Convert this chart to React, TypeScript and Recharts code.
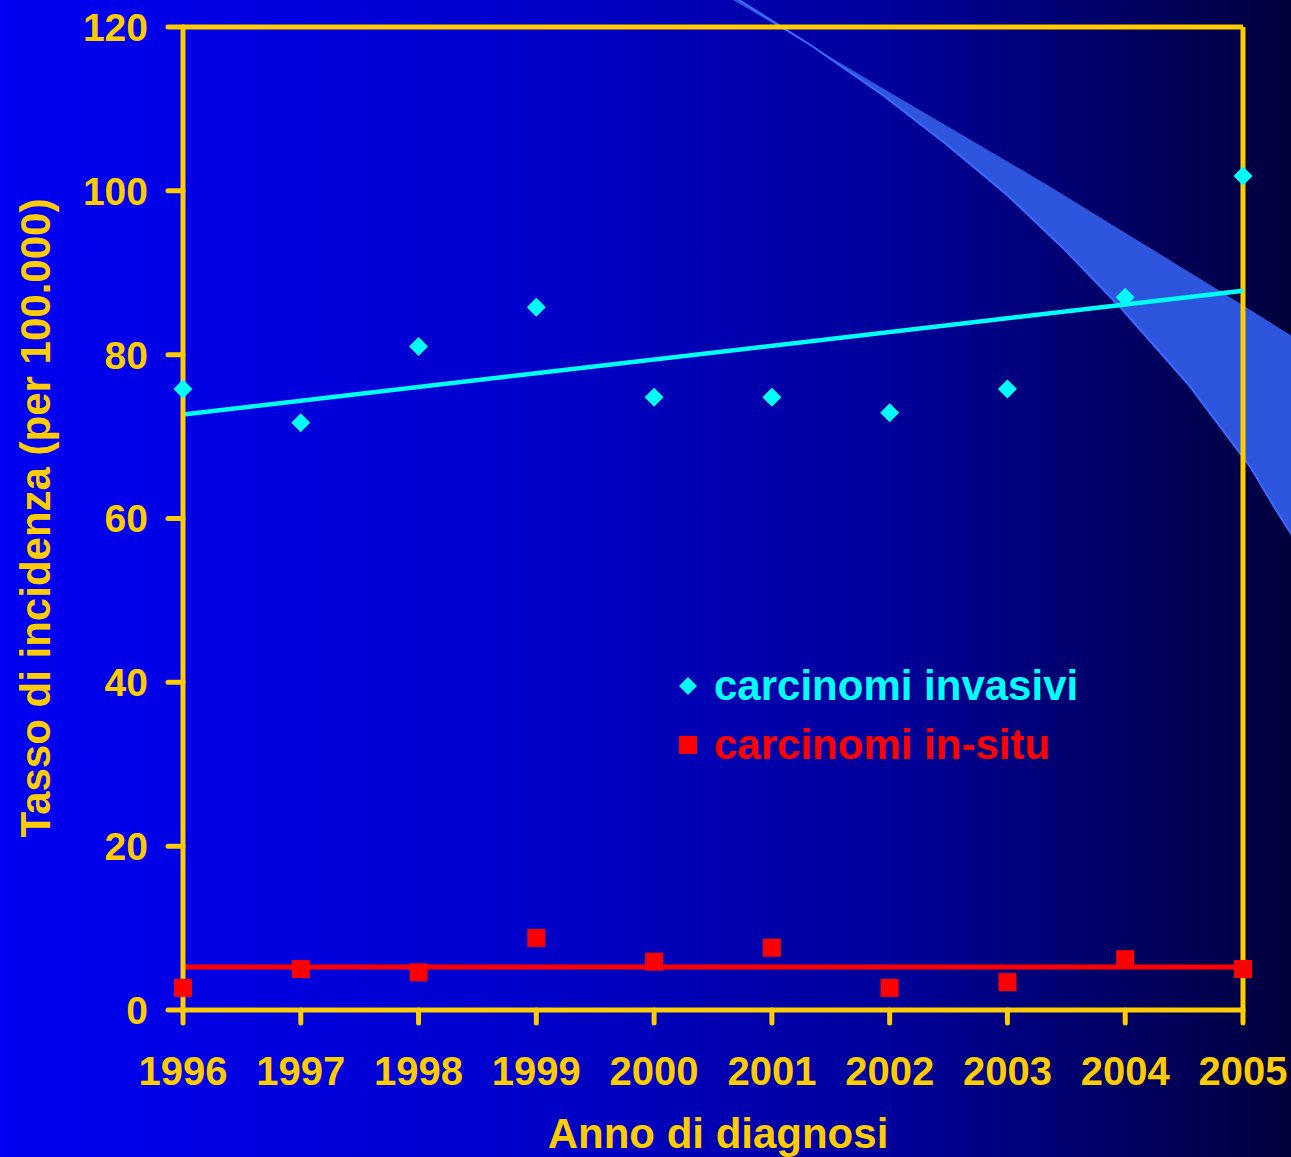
import React from 'react';
import { ComposedChart, Line, Scatter, XAxis, YAxis, ReferenceLine } from 'recharts';

const years = [1996, 1997, 1998, 1999, 2000, 2001, 2002, 2003, 2004, 2005];
const invasivi = [75.8, 71.7, 81.0, 85.8, 74.8, 74.8, 72.9, 75.8, 87.0, 101.8];
const inSitu = [2.7, 5.0, 4.6, 8.8, 5.9, 7.6, 2.7, 3.4, 6.2, 5.0];
const trendYears = [1996, 2005];
const invasiviTrend = [72.7, 87.8];
const inSituTrend = [5.25, 5.25];
const yTicks = [0, 20, 40, 60, 80, 100, 120];
const seriesNames = ['carcinomi invasivi', 'carcinomi in-situ'];
const xTitle = 'Anno di diagnosi';
const yTitle = 'Tasso di incidenza (per 100.000)';

const YELLOW = '#FFCC00';
const CYAN = '#00FFFF';
const RED = '#FF0000';
const FONT = '"Liberation Sans", Arial, Helvetica, sans-serif';

const data = years.map((y, i) => {
  const t = trendYears.indexOf(y);
  return {
    year: y,
    inv: invasivi[i],
    situ: inSitu[i],
    invTrend: t >= 0 ? invasiviTrend[t] : null,
    situTrend: t >= 0 ? inSituTrend[t] : null,
  };
});

const Diamond = (props: any) => {
  const { cx, cy } = props;
  if (cx == null || cy == null) return null;
  const r = 9.5;
  return <polygon points={`${cx},${cy - r} ${cx + r},${cy} ${cx},${cy + r} ${cx - r},${cy}`} fill={CYAN} />;
};

const Square = (props: any) => {
  const { cx, cy } = props;
  if (cx == null || cy == null) return null;
  const h = 9;
  return <rect x={cx - h} y={cy - h} width={2 * h} height={2 * h} fill={RED} />;
};

const LegendBox = () => (
  <div style={{ position: 'absolute', left: 676, top: 656, fontFamily: FONT, fontWeight: 'bold', fontSize: 42 }}>
    {seriesNames.map((n, i) => (
      <div key={n} style={{ display: 'flex', alignItems: 'center', height: 59 }}>
        <svg width={24} height={24} style={{ marginRight: 14 }}>
          {i === 0 ? (
            <polygon points="12,3 21,12 12,21 3,12" fill={CYAN} />
          ) : (
            <rect x={3} y={3} width={18} height={18} fill={RED} />
          )}
        </svg>
        <span style={{ color: i === 0 ? CYAN : RED, whiteSpace: 'nowrap' }}>{n}</span>
      </div>
    ))}
  </div>
);

export default function App() {
  return (
    <div
      style={{
        position: 'absolute',
        left: 0,
        top: 0,
        width: 1291,
        height: 1157,
        overflow: 'hidden',
        background: 'linear-gradient(to right, #0000F2 0%, #0000CC 40%, #000098 70%, #00003C 100%)',
      }}
    >
      <svg width={1291} height={1157} style={{ position: 'absolute', left: 0, top: 0 }}>
        <path
          d="M733,0 L800,39 L884,89 L964,136 L1044,183 L1132,237 L1220,291 L1300,341 L1300,548 L1276,510 L1251,468 L1188,384 L1121,308 L1064,249 L1006,194 L946,144 L884,96 L812,46 L739,0 Z"
          fill="#2D55DD"
        />
        <path
          d="M739,0 L812,46 L884,96 L946,144 L1006,194 L1064,249 L1121,308 L1188,384 L1251,468 L1276,510 L1300,548"
          fill="none"
          stroke="#3A6CFF"
          strokeWidth={2}
        />
      </svg>
      <div style={{ position: 'absolute', left: 0, top: 0 }}>
        <ComposedChart
          width={1291}
          height={1157}
          data={data}
          margin={{ top: 27, right: 48, bottom: 47, left: 0 }}
        >
          <XAxis
            dataKey="year"
            type="number"
            domain={[1996, 2005]}
            ticks={years}
            allowDecimals={false}
            height={100}
            axisLine={{ stroke: YELLOW, strokeWidth: 5, strokeLinecap: 'round' }}
            tickLine={{ stroke: YELLOW, strokeWidth: 5, strokeLinecap: 'round' }}
            tickSize={13}
            tickMargin={34}
            tick={{ fill: YELLOW, fontSize: 40, fontWeight: 'bold', fontFamily: FONT }}
            label={{
              content: () => (
                <text
                  x={718}
                  y={1148}
                  textAnchor="middle"
                  fill={YELLOW}
                  fontSize={42}
                  fontWeight="bold"
                  fontFamily={FONT}
                >
                  {xTitle}
                </text>
              ),
            }}
          />
          <YAxis
            type="number"
            domain={[0, 120]}
            ticks={yTicks}
            width={183}
            axisLine={{ stroke: YELLOW, strokeWidth: 5, strokeLinecap: 'round' }}
            tickLine={{ stroke: YELLOW, strokeWidth: 5, strokeLinecap: 'round' }}
            tickSize={15}
            tickMargin={20}
            tick={{ fill: YELLOW, fontSize: 39, fontWeight: 'bold', fontFamily: FONT }}
            label={{
              content: () => (
                <text
                  x={50}
                  y={518}
                  transform="rotate(-90, 50, 518)"
                  textAnchor="middle"
                  fill={YELLOW}
                  fontSize={42}
                  fontWeight="bold"
                  fontFamily={FONT}
                >
                  {yTitle}
                </text>
              ),
            }}
          />
          <ReferenceLine y={120} stroke={YELLOW} strokeWidth={5} />
          <ReferenceLine x={2005} stroke={YELLOW} strokeWidth={5} />
          <Line
            dataKey="invTrend"
            stroke={CYAN}
            strokeWidth={4.5}
            dot={false}
            activeDot={false}
            connectNulls
            isAnimationActive={false}
            legendType="none"
          />
          <Line
            dataKey="situTrend"
            stroke={RED}
            strokeWidth={5}
            dot={false}
            activeDot={false}
            connectNulls
            isAnimationActive={false}
            legendType="none"
          />
          <Scatter dataKey="inv" name={seriesNames[0]} shape={Diamond} isAnimationActive={false} />
          <Scatter dataKey="situ" name={seriesNames[1]} shape={Square} isAnimationActive={false} />
        </ComposedChart>
      </div>
      <LegendBox />
    </div>
  );
}
